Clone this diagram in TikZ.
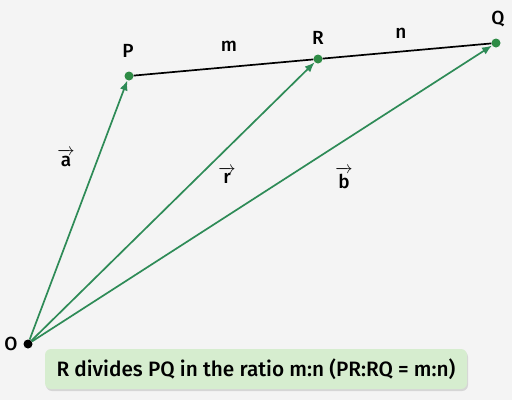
\documentclass[tikz,border=0pt]{standalone}
\usepackage{fontspec}
\setmainfont{Fira Sans}[BoldFont={Fira Sans Medium}]
\usepackage{amsmath}
\usetikzlibrary{arrows,arrows.meta,shapes,positioning,shadows}

\definecolor{vecgreen}{HTML}{2E8B57}
\definecolor{dotgreen}{HTML}{2E8B45}
\definecolor{boxgreen}{HTML}{D6EDCF}
\definecolor{bggray}{HTML}{F4F4F4}

\tikzset{
  pt/.style={circle,fill=dotgreen,inner sep=0pt,minimum size=9pt},
  lbl/.style={font=\fontsize{19}{22}\selectfont\bfseries},
  vec/.style={-{Latex[length=10pt,width=8pt]},draw=vecgreen,fill=vecgreen,line width=1.7pt}
}

\newcommand{\vecl}[1]{$\overrightarrow{\textbf{#1}}$}

\begin{document}
\begin{tikzpicture}[x=1pt,y=-1pt]
        \fill[bggray] (0,0) rectangle (512,400);
        \useasboundingbox (0,0) rectangle (512,400);

        \node[pt,fill=black] (O) at (28,344) {};
        \node[pt] (P) at (129,76) {};
        \node[pt] (R) at (318,59) {};
        \node[pt] (Q) at (496,43) {};

        \node[lbl] (Ol) at (11,344) {O};
        \node[lbl] (Pl) at (128,51) {P};
        \node[lbl] (Rl) at (318,38) {R};
        \node[lbl] (Ql) at (498,19) {Q};
        \node[lbl] (ml) at (229,46) {m};
        \node[lbl] (nl) at (401,33) {n};

        \node[lbl] (al) at (66,158) {\vecl{a}};
        \node[lbl] (rl) at (227,175) {\vecl{r}};
        \node[lbl] (bl) at (344,178) {\vecl{b}};

        \draw[line width=1.7pt] (P) -- (R) ;
        \draw[line width=1.7pt] (R) -- (Q) ;

        \draw[vec] (O) -- (P) ;
        \draw[vec] (O) -- (R) ;
        \draw[vec] (O) -- (Q) ;

        \node[fill=boxgreen, rounded corners=6pt, minimum width=422pt, minimum height=40pt,
              drop shadow={opacity=0.25,shadow xshift=1pt,shadow yshift=-2pt},
              font=\fontsize{20.8}{24}\selectfont\bfseries] (note) at (256,369)
              {R divides PQ in the ratio m:n (PR:RQ = m:n)};
\end{tikzpicture}
\end{document}
